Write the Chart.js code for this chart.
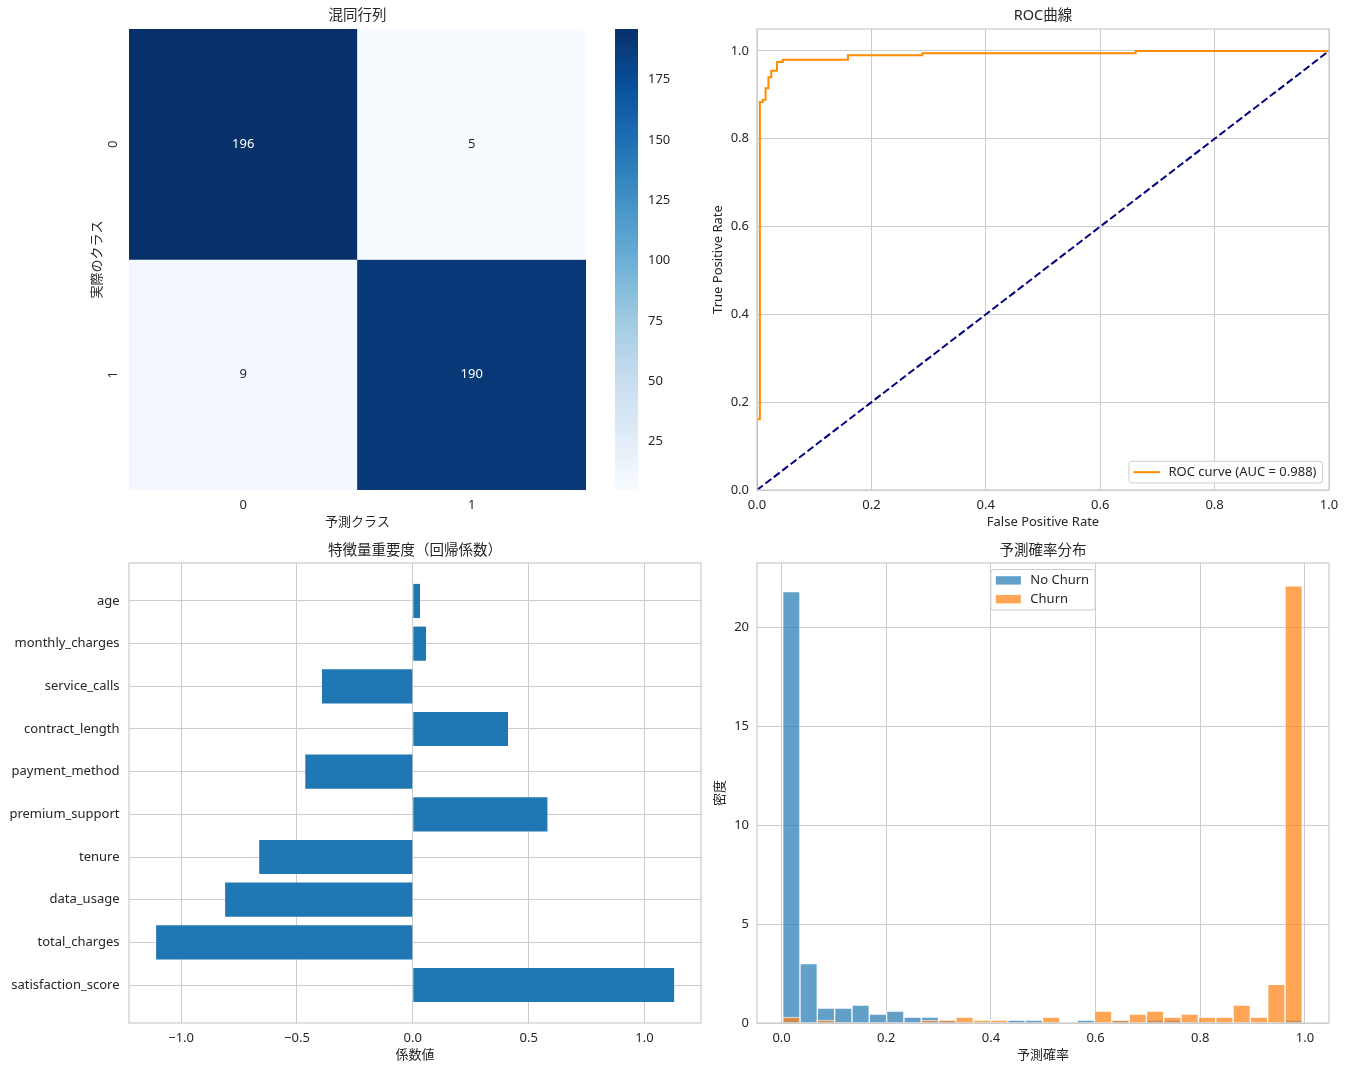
<!DOCTYPE html>
<html lang="ja">
<head>
<meta charset="utf-8">
<title>チャーン予測モデル評価</title>
<script src="https://cdn.jsdelivr.net/npm/chart.js@4.4.1/dist/chart.umd.min.js"></script>
<style>
    html, body { margin: 0; padding: 0; background: #fff; }
    #figure { position: relative; width: 1347px; height: 1071px; overflow: hidden; }
    .panel { position: absolute; }
</style>
</head>
<body>
<div id="figure">
    <div class="panel" style="left:0;top:0;width:600px;height:540px"><canvas id="cmChart"></canvas></div>
    <div class="panel" style="left:600px;top:0;width:100px;height:540px"><canvas id="cbarChart"></canvas></div>
    <div class="panel" style="left:690px;top:0;width:657px;height:540px"><canvas id="rocChart"></canvas></div>
    <div class="panel" style="left:0;top:535px;width:720px;height:536px"><canvas id="coefChart"></canvas></div>
    <div class="panel" style="left:690px;top:535px;width:657px;height:536px"><canvas id="histChart"></canvas></div>
</div>
<script>
/* -------- Data -------- */
const cmClasses = ['0', '1'];
const cmRow0 = [196, 5];
const cmRow1 = [9, 190];
const cmMin = 5;
const cmMax = 196;
const cbarTicks = [25, 50, 75, 100, 125, 150, 175];

const rocFpr = [0, 0, 0.005, 0.005, 0.010, 0.010, 0.015, 0.015, 0.020, 0.020, 0.025, 0.025,
                0.035, 0.035, 0.045, 0.045, 0.159, 0.159, 0.289, 0.289, 0.662, 0.662, 1.0];
const rocTpr = [0, 0.161, 0.161, 0.884, 0.884, 0.889, 0.889, 0.915, 0.915, 0.940, 0.940, 0.955,
                0.955, 0.975, 0.975, 0.980, 0.980, 0.990, 0.990, 0.995, 0.995, 1.0, 1.0];
const chanceLine = [0, 1];
const rocAuc = 0.988;
const unitTicks = [0, 0.2, 0.4, 0.6, 0.8, 1.0];
const rocYMax = 1.05;

const features = ['age', 'monthly_charges', 'service_calls', 'contract_length', 'payment_method',
                  'premium_support', 'tenure', 'data_usage', 'total_charges', 'satisfaction_score'];
const coefValues = [0.031, 0.057, -0.392, 0.411, -0.464, 0.581, -0.663, -0.810, -1.108, 1.128];
const coefTicks = [-1.0, -0.5, 0.0, 0.5, 1.0];
const coefRange = [-1.225, 1.244];

const binCenters = [0.0186, 0.0517, 0.0848, 0.1179, 0.1510, 0.1841, 0.2172, 0.2503, 0.2834, 0.3165,
                    0.3496, 0.3827, 0.4158, 0.4489, 0.4820, 0.5151, 0.5482, 0.5813, 0.6144, 0.6475,
                    0.6806, 0.7137, 0.7468, 0.7799, 0.8130, 0.8461, 0.8792, 0.9123, 0.9454, 0.9785];
const noChurnDensity = [21.8, 3.0, 0.75, 0.75, 0.9, 0.45, 0.6, 0.3, 0.3, 0.15,
                        0, 0, 0, 0.15, 0.15, 0, 0, 0.15, 0, 0.15,
                        0, 0.15, 0.15, 0, 0, 0, 0, 0, 0, 0.15];
const churnDensity = [0.3, 0, 0.15, 0, 0, 0, 0, 0, 0.15, 0.15,
                      0.3, 0.15, 0.15, 0, 0, 0.3, 0, 0, 0.6, 0.15,
                      0.45, 0.6, 0.3, 0.45, 0.3, 0.3, 0.9, 0.3, 1.95, 22.1];
const histXRange = [-0.047, 1.046];
const histYMax = 23.25;
const densityTicks = [0, 5, 10, 15, 20];

/* -------- Style -------- */
const FONT = '"Noto Sans", "Noto Sans CJK JP", sans-serif';
const TEXT = '#262626';
const GRID = '#cccccc';
const BLUES = ['#f7fbff', '#deebf7', '#c6dbef', '#9ecae1', '#6baed6', '#4292c6', '#2171b5', '#08519c', '#08306b'];

Chart.defaults.font.family = FONT;
Chart.defaults.font.size = 13;
Chart.defaults.color = TEXT;
Chart.defaults.borderColor = GRID;
Chart.defaults.animation = false;
Chart.defaults.responsive = true;
Chart.defaults.maintainAspectRatio = false;
Chart.defaults.plugins.legend.display = false;
Chart.defaults.plugins.tooltip.enabled = false;

function hexRgb(h) {
    return [1, 3, 5].map(i => parseInt(h.slice(i, i + 2), 16));
}

function bluesAt(v) {
    const t = Math.min(1, Math.max(0, (v - cmMin) / (cmMax - cmMin))) * (BLUES.length - 1);
    const i = Math.min(Math.floor(t), BLUES.length - 2);
    const f = t - i;
    const a = hexRgb(BLUES[i]), b = hexRgb(BLUES[i + 1]);
    return a.map((c, k) => Math.round(c + (b[k] - c) * f));
}

function luminance(rgb) {
    const lin = rgb.map(c => {
        c /= 255;
        return c <= 0.03928 ? c / 12.92 : Math.pow((c + 0.055) / 1.055, 2.4);
    });
    return 0.2126 * lin[0] + 0.7152 * lin[1] + 0.0722 * lin[2];
}

const rgbStr = rgb => `rgb(${rgb[0]}, ${rgb[1]}, ${rgb[2]})`;
const fmt1 = v => (v < 0 ? '\u2212' : '') + Math.abs(v).toFixed(1);
const fixedTicks = values => scale => { scale.ticks = values.map(v => ({ value: v })); };
const fixWidth = w => scale => { scale.width = w; };
const fixHeight = h => scale => { scale.height = h; };

function panelTitle(text, padBottom) {
    return {
        display: true, text, fullSize: false,
        font: { size: 14.5, weight: 'normal' },
        padding: { top: 7.6, bottom: padBottom }
    };
}

/* -------- Plugins -------- */
const axesFrame = {
    id: 'axesFrame',
    afterDatasetsDraw(chart) {
        const { ctx, chartArea: a } = chart;
        ctx.save();
        ctx.strokeStyle = GRID;
        ctx.lineWidth = 1.25;
        ctx.strokeRect(a.left, a.top, a.right - a.left, a.bottom - a.top);
        ctx.restore();
    }
};

const innerLegend = {
    id: 'innerLegend',
    afterDraw(chart, args, opts) {
        if (!opts.items) return;
        const { ctx, chartArea: area } = chart;
        ctx.save();
        ctx.font = `13px ${FONT}`;
        const textW = Math.max(...opts.items.map(it => ctx.measureText(it.text).width));
        const boxW = 39.5 + textW + 6;
        const boxH = opts.items.length * opts.rowHeight + opts.padY * 2;
        let x0, y0;
        if (opts.loc === 'lower right') {
            x0 = area.right - 6.5 - boxW;
            y0 = area.bottom - opts.edgeGap - boxH;
        } else {
            x0 = (area.left + area.right) / 2 - boxW / 2;
            y0 = area.top + opts.edgeGap;
        }
        ctx.beginPath();
        ctx.roundRect(x0, y0, boxW, boxH, 3);
        ctx.fillStyle = 'rgba(255, 255, 255, 0.8)';
        ctx.fill();
        ctx.strokeStyle = GRID;
        ctx.lineWidth = 1;
        ctx.stroke();
        opts.items.forEach((it, i) => {
            const cy = y0 + opts.padY + opts.rowHeight * (i + 0.5);
            if (it.kind === 'line') {
                ctx.beginPath();
                ctx.moveTo(x0 + 4.5, cy);
                ctx.lineTo(x0 + 31, cy);
                ctx.strokeStyle = it.color;
                ctx.lineWidth = 2;
                ctx.stroke();
            } else {
                ctx.fillStyle = it.color;
                ctx.fillRect(x0 + 5, cy - 4.2, 25, 8.4);
            }
            ctx.fillStyle = TEXT;
            ctx.textAlign = 'left';
            ctx.textBaseline = 'middle';
            ctx.fillText(it.text, x0 + 39.5, cy);
        });
        ctx.restore();
    }
};

const cmRows = [cmRow0, cmRow1];

const cellLabels = {
    id: 'cellLabels',
    afterDatasetsDraw(chart) {
        const { ctx } = chart;
        ctx.save();
        ctx.font = `13px ${FONT}`;
        ctx.textAlign = 'center';
        ctx.textBaseline = 'middle';
        cmRows.forEach((row, r) => {
            chart.getDatasetMeta(r).data.forEach((bar, c) => {
                const v = row[c];
                ctx.fillStyle = luminance(bluesAt(v)) > 0.408 ? TEXT : '#ffffff';
                ctx.fillText(String(v), bar.x, (bar.y + bar.base) / 2);
            });
        });
        ctx.restore();
    }
};

/* =====================================================
   Confusion matrix (heatmap from floating bars)
   ===================================================== */
new Chart(document.getElementById('cmChart'), {
    type: 'bar',
    data: {
        datasets: cmRows.map((row, r) => ({
            data: row.map((v, c) => ({ x: c + 0.5, y: [r, r + 1] })),
            backgroundColor: row.map(v => rgbStr(bluesAt(v))),
            grouped: false,
            barPercentage: 1,
            categoryPercentage: 1
        }))
    },
    options: {
        layout: { padding: { top: 0, left: 0, right: 14, bottom: 10.2 } },
        plugins: { title: panelTitle('混同行列', 4) },
        scales: {
            x: {
                type: 'linear', min: 0, max: 2, offset: false,
                afterBuildTicks: fixedTicks([0.5, 1.5]),
                afterFit: fixHeight(39.8),
                ticks: { padding: 7.2, callback: v => cmClasses[Math.floor(v)] },
                grid: { display: false, drawTicks: false, offset: false },
                border: { display: false },
                title: { display: true, text: '予測クラス', padding: { top: 0, bottom: 0 } }
            },
            y: {
                type: 'linear', min: 0, max: 2, reverse: true,
                afterBuildTicks: fixedTicks([0.5, 1.5]),
                afterFit: fixWidth(129),
                ticks: {
                    padding: 12, minRotation: 90, maxRotation: 90, crossAlign: 'center',
                    callback: v => cmClasses[Math.floor(v)]
                },
                grid: { display: false, drawTicks: false },
                border: { display: false },
                title: { display: true, text: '実際のクラス', padding: { top: 89.2, bottom: 0 } }
            }
        }
    },
    plugins: [cellLabels]
});

/* -------- Colour bar -------- */
new Chart(document.getElementById('cbarChart'), {
    type: 'bar',
    data: {
        labels: ['count'],
        datasets: [{
            data: [[cmMin, cmMax]],
            barPercentage: 1,
            categoryPercentage: 1,
            backgroundColor: ctx => {
                const area = ctx.chart.chartArea;
                if (!area) return BLUES[0];
                const g = ctx.chart.ctx.createLinearGradient(0, area.bottom, 0, area.top);
                BLUES.forEach((c, i) => g.addColorStop(i / (BLUES.length - 1), c));
                return g;
            }
        }]
    },
    options: {
        layout: { padding: { top: 29, left: 15, right: 0, bottom: 50 } },
        scales: {
            x: { display: false },
            y: {
                position: 'right', min: cmMin, max: cmMax,
                afterBuildTicks: fixedTicks(cbarTicks),
                afterFit: fixWidth(62),
                ticks: { padding: 10 },
                grid: { display: false, drawTicks: false },
                border: { display: false }
            }
        }
    }
});

/* =====================================================
   ROC curve
   ===================================================== */
new Chart(document.getElementById('rocChart'), {
    type: 'line',
    data: {
        datasets: [{
            label: `ROC curve (AUC = ${rocAuc.toFixed(3)})`,
            data: rocFpr.map((x, i) => ({ x, y: rocTpr[i] })),
            borderColor: '#ff8c00',
            borderWidth: 2,
            pointRadius: 0,
            tension: 0,
            fill: false,
            order: 1
        }, {
            label: 'chance',
            data: chanceLine.map(v => ({ x: v, y: v })),
            borderColor: '#000080',
            borderWidth: 2,
            borderDash: [7.4, 3.2],
            pointRadius: 0,
            fill: false,
            order: 0
        }]
    },
    options: {
        layout: { padding: { top: 0, left: 0, right: 18, bottom: 10.2 } },
        plugins: {
            title: panelTitle('ROC曲線', 4),
            innerLegend: {
                loc: 'lower right', rowHeight: 21.7, padY: 0, edgeGap: 7,
                items: [{ kind: 'line', color: '#ff8c00', text: `ROC curve (AUC = ${rocAuc.toFixed(3)})` }]
            }
        },
        scales: {
            x: {
                type: 'linear', min: 0, max: 1,
                afterBuildTicks: fixedTicks(unitTicks),
                afterFit: fixHeight(39.8),
                ticks: { padding: 7.2, callback: fmt1 },
                grid: { drawTicks: false },
                border: { display: false },
                title: { display: true, text: 'False Positive Rate', padding: { top: 0, bottom: 0 } }
            },
            y: {
                type: 'linear', min: 0, max: rocYMax,
                afterBuildTicks: fixedTicks(unitTicks),
                afterFit: fixWidth(67),
                ticks: { padding: 8, callback: fmt1 },
                grid: { drawTicks: false },
                border: { display: false },
                title: { display: true, text: 'True Positive Rate', padding: { top: 20.2, bottom: 0 } }
            }
        }
    },
    plugins: [axesFrame, innerLegend]
});

/* =====================================================
   Feature importance (horizontal bars)
   ===================================================== */
new Chart(document.getElementById('coefChart'), {
    type: 'bar',
    data: {
        datasets: [{
            data: features.map((f, i) => ({ x: coefValues[i], y: i })),
            backgroundColor: '#1f77b4',
            categoryPercentage: 0.8,
            barPercentage: 1
        }]
    },
    options: {
        indexAxis: 'y',
        layout: { padding: { top: 0, left: 0, right: 19, bottom: 8.2 } },
        plugins: { title: panelTitle('特徴量重要度（回帰係数）', 3) },
        scales: {
            x: {
                type: 'linear', min: coefRange[0], max: coefRange[1],
                afterBuildTicks: fixedTicks(coefTicks),
                afterFit: fixHeight(39.8),
                ticks: { padding: 7.2, callback: fmt1 },
                grid: { drawTicks: false },
                border: { display: false },
                title: { display: true, text: '係数値', padding: { top: 0, bottom: 0 } }
            },
            y: {
                type: 'linear', min: -0.89, max: features.length - 0.11, reverse: true, offset: false,
                afterBuildTicks: fixedTicks(features.map((f, i) => i)),
                afterFit: fixWidth(129),
                ticks: { padding: 9.5, callback: v => features[v] },
                grid: { drawTicks: false, offset: false },
                border: { display: false }
            }
        }
    },
    plugins: [axesFrame]
});

/* =====================================================
   Predicted probability histogram
   ===================================================== */
new Chart(document.getElementById('histChart'), {
    type: 'bar',
    data: {
        datasets: [{
            label: 'No Churn',
            data: binCenters.map((x, i) => ({ x, y: noChurnDensity[i] })),
            backgroundColor: 'rgba(31, 119, 180, 0.7)',
            borderColor: 'rgba(255, 255, 255, 0.7)',
            borderWidth: 1,
            grouped: false,
            barPercentage: 1,
            categoryPercentage: 1,
            order: 1
        }, {
            label: 'Churn',
            data: binCenters.map((x, i) => ({ x, y: churnDensity[i] })),
            backgroundColor: 'rgba(255, 127, 14, 0.7)',
            borderColor: 'rgba(255, 255, 255, 0.7)',
            borderWidth: 1,
            grouped: false,
            barPercentage: 1,
            categoryPercentage: 1,
            order: 0
        }]
    },
    options: {
        layout: { padding: { top: 0, left: 0, right: 18, bottom: 8.2 } },
        plugins: {
            title: panelTitle('予測確率分布', 3),
            innerLegend: {
                loc: 'upper center', rowHeight: 18.8, padY: 1.5, edgeGap: 6.5,
                items: [
                    { kind: 'patch', color: 'rgba(31, 119, 180, 0.7)', text: 'No Churn' },
                    { kind: 'patch', color: 'rgba(255, 127, 14, 0.7)', text: 'Churn' }
                ]
            }
        },
        scales: {
            x: {
                type: 'linear', min: histXRange[0], max: histXRange[1], offset: false,
                afterBuildTicks: fixedTicks(unitTicks),
                afterFit: fixHeight(39.8),
                ticks: { padding: 7.2, callback: fmt1 },
                grid: { drawTicks: false, offset: false },
                border: { display: false },
                title: { display: true, text: '予測確率', padding: { top: 0, bottom: 0 } }
            },
            y: {
                type: 'linear', min: 0, max: histYMax,
                afterBuildTicks: fixedTicks(densityTicks),
                afterFit: fixWidth(67),
                ticks: { padding: 8, callback: v => String(v) },
                grid: { drawTicks: false },
                border: { display: false },
                title: { display: true, text: '密度', padding: { top: 22.2, bottom: 0 } }
            }
        }
    },
    plugins: [axesFrame, innerLegend]
});
</script>
</body>
</html>
